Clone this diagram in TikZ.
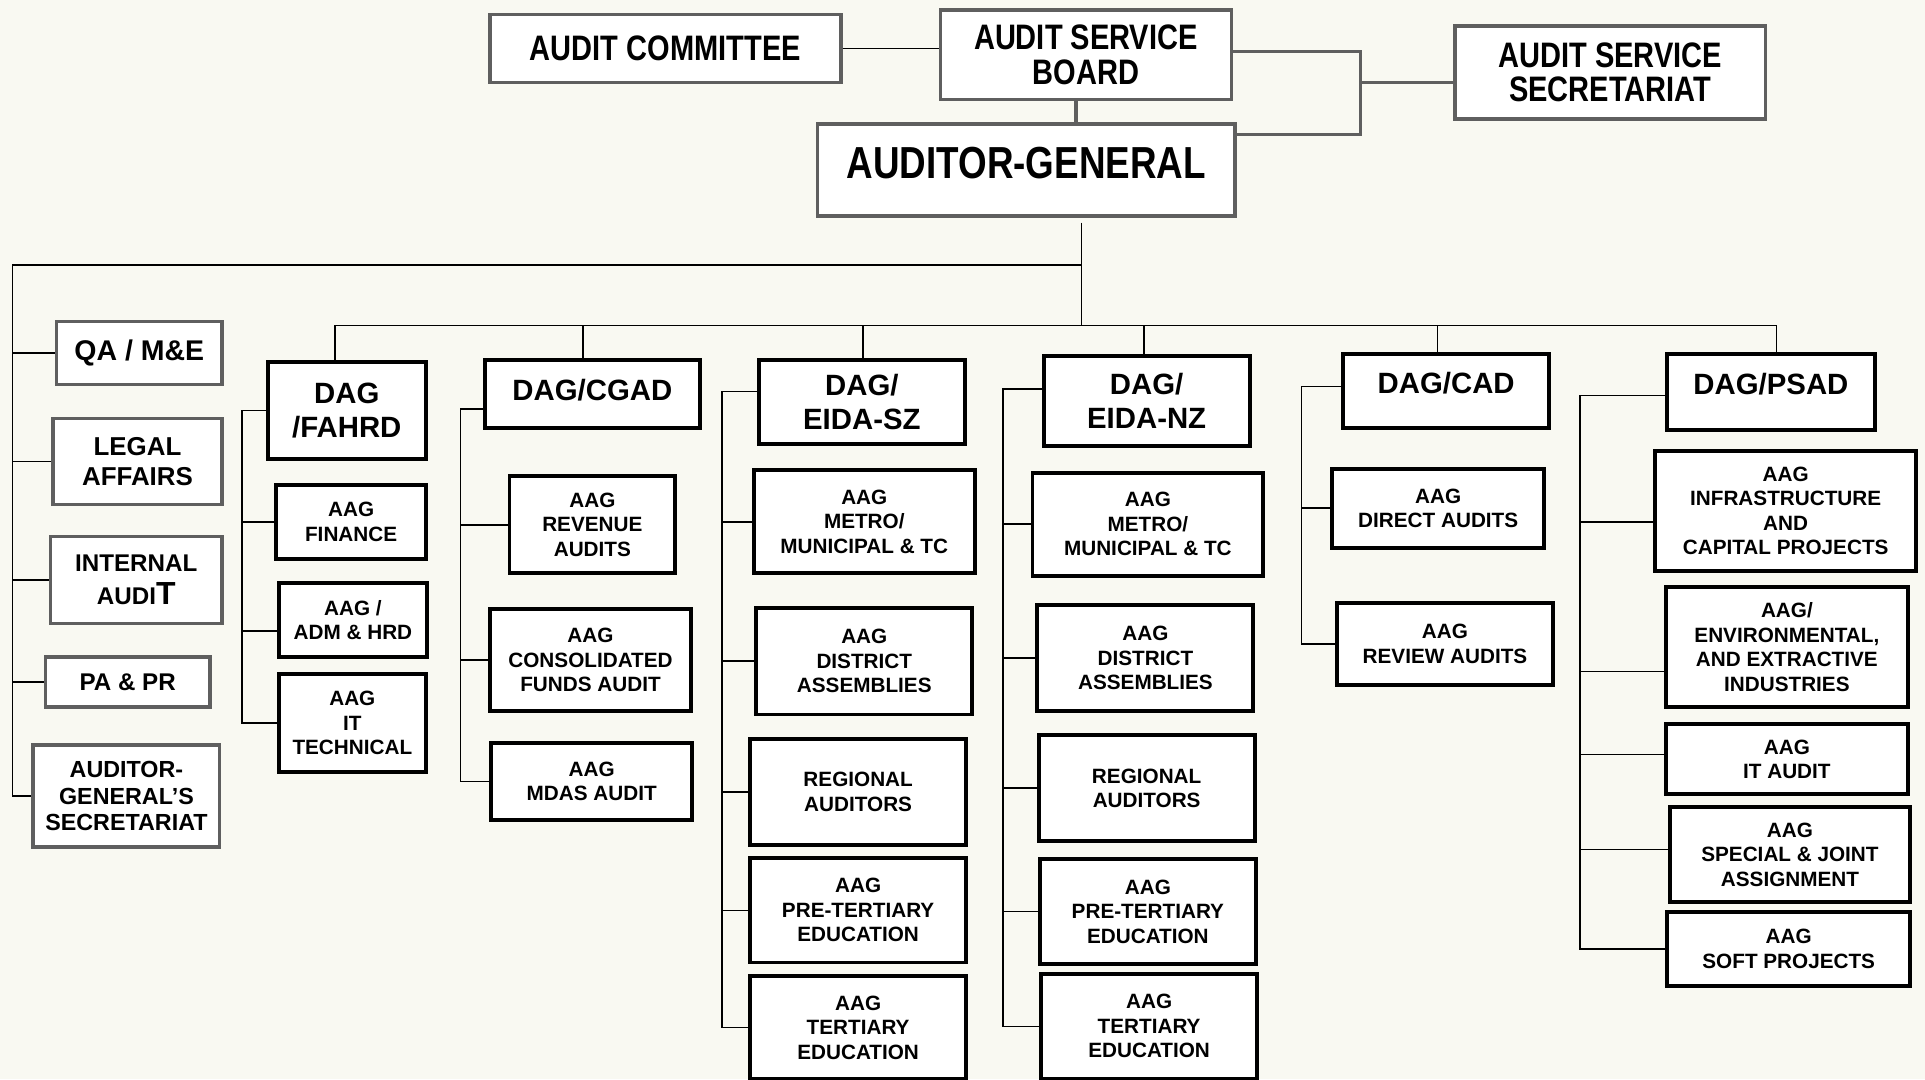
\documentclass[tikz,border=0pt]{standalone}
\usepackage{fontspec}
\setmainfont{Liberation Sans}
\newfontfamily\narrowfont[FakeStretch=0.82]{Liberation Sans}
\usetikzlibrary{positioning,calc}
\definecolor{boxgray}{RGB}{95,95,95}
\definecolor{paper}{RGB}{249,249,242}

\begin{document}
\begin{tikzpicture}[x=0.025cm, y=-0.025cm,
    wh/.style 2 args={minimum width=#1*0.025cm, minimum height=#2*0.025cm, inner sep=0pt}]
		\tikzstyle{topbox}=[draw=boxgray, line width=2pt, fill=white, align=center, font=\narrowfont\bfseries\fontsize{20.5}{20}\selectfont]
		\tikzstyle{staff}=[draw=boxgray, line width=2pt, fill=white, align=center, font=\bfseries\fontsize{15}{17.7}\selectfont]
		\tikzstyle{dag}=[draw=black, line width=2.3pt, fill=white, align=center, font=\bfseries\fontsize{17}{19.5}\selectfont]
		\tikzstyle{aag}=[draw=black, line width=2.3pt, fill=white, align=center, font=\bfseries\fontsize{12}{14.2}\selectfont]
		\tikzstyle{conn}=[draw=black, line width=0.9pt]
		\tikzstyle{gconn}=[draw=boxgray, line width=2pt]
		\fill[paper] (0,0) rectangle (1568,879);
		\useasboundingbox (0,0) rectangle (1568,879);

		% board and auditor-general
		\node[topbox, wh={286}{55}]    (ac)  at (542,39.5)    {AUDIT COMMITTEE};
		\node[topbox, wh={237}{73}]    (asb) at (884.5,44.5)  {AUDIT SERVICE\\BOARD};
		\node[topbox, wh={253}{76}]    (ass) at (1311.5,59)   {AUDIT SERVICE\\SECRETARIAT};
		\node[topbox, wh={340}{75}, font=\narrowfont\bfseries\fontsize{26}{28}\selectfont, text depth=8pt]
		                               (ag)  at (836,138.5)   {AUDITOR-GENERAL};

		% staff units
		\node[staff, wh={135}{51}, font=\bfseries\fontsize{16.5}{18}\selectfont] (qa) at (113.5,287.5) {QA / M\&E};
		\node[staff, wh={138}{70}]    (legal)    at (112,376)   {LEGAL\\AFFAIRS};
		\node[staff, wh={140}{71}, font=\bfseries\fontsize{14}{19}\selectfont]
		                              (internal) at (111,472.5) {INTERNAL\\AUDI{\fontsize{18.5}{19}\selectfont T}};
		\node[staff, wh={134}{41}, font=\bfseries\fontsize{14}{17}\selectfont] (papr) at (104,555.5) {PA \& PR};
		\node[staff, wh={152}{83}, font=\bfseries\fontsize{13.5}{15.2}\selectfont]
		                              (ags)      at (103,648.5) {AUDITOR-\\GENERAL’S\\SECRETARIAT};

		% DAG/FAHRD
		\node[dag, wh={129}{79}] (fahrd) at (282.5,334.5) {DAG\\/FAHRD};
		\node[aag, wh={122}{60}] (fin)   at (286,425)     {AAG\\FINANCE};
		\node[aag, wh={121}{60}] (adm)   at (287.5,505)   {AAG /\\ADM \& HRD};
		\node[aag, wh={120}{80}] (itt)   at (287,589)     {AAG\\IT\\TECHNICAL};

		% DAG/CGAD
		\node[dag, wh={175}{56}, text depth=4.5pt] (cgad) at (482.5,321) {DAG/CGAD};
		\node[aag, wh={135}{79}] (rev)   at (482.5,427.5) {AAG\\REVENUE\\AUDITS};
		\node[aag, wh={164}{83}] (cons)  at (481,537.5)   {AAG\\CONSOLIDATED\\FUNDS AUDIT};
		\node[aag, wh={164}{63}] (mdas)  at (482,636.5)   {AAG\\MDAS AUDIT};

		% DAG/EIDA-SZ
		\node[dag, wh={168}{69}] (eidasz) at (702,327.5) {DAG/\\EIDA-SZ};
		\node[aag, wh={180}{84}] (szmet)  at (704,425)   {AAG\\METRO/\\MUNICIPAL \& TC};
		\node[aag, wh={176}{87}] (szdis)  at (704,538.5) {AAG\\DISTRICT\\ASSEMBLIES};
		\node[aag, wh={176}{86}] (szreg)  at (699,645)   {REGIONAL\\AUDITORS};
		\node[aag, wh={176}{85}] (szpre)  at (699,741.5) {AAG\\PRE-TERTIARY\\EDUCATION};
		\node[aag, wh={176}{84}] (szter)  at (699,837)   {AAG\\TERTIARY\\EDUCATION};

		% DAG/EIDA-NZ
		\node[dag, wh={168}{73}] (eidanz) at (934,326.5) {DAG/\\EIDA-NZ};
		\node[aag, wh={188}{84}] (nzmet)  at (935,427)   {AAG\\METRO/\\MUNICIPAL \& TC};
		\node[aag, wh={176}{86}] (nzdis)  at (933,536)   {AAG\\DISTRICT\\ASSEMBLIES};
		\node[aag, wh={176}{86}] (nzreg)  at (934,642)   {REGIONAL\\AUDITORS};
		\node[aag, wh={176}{85}] (nzpre)  at (935,742.5) {AAG\\PRE-TERTIARY\\EDUCATION};
		\node[aag, wh={176}{86}] (nzter)  at (936,836)   {AAG\\TERTIARY\\EDUCATION};

		% DAG/CAD
		\node[dag, wh={168}{61}, text depth=9pt] (cad) at (1178,318.5) {DAG/CAD};
		\node[aag, wh={173}{64}] (dir)   at (1171.5,414)  {AAG\\DIRECT AUDITS};
		\node[aag, wh={176}{67}] (revw)  at (1177,524.5)  {AAG\\REVIEW AUDITS};

		% DAG/PSAD
		\node[dag, wh={169}{62}, text depth=8.5pt] (psad) at (1442.5,319) {DAG/PSAD};
		\node[aag, wh={213}{98}] (infra) at (1454.5,416)  {AAG\\INFRASTRUCTURE\\AND\\CAPITAL PROJECTS};
		\node[aag, wh={197}{98}] (env)   at (1455.5,527)  {AAG/\\ENVIRONMENTAL,\\AND EXTRACTIVE\\INDUSTRIES};
		\node[aag, wh={197}{57}] (ita)   at (1455.5,618.5) {AAG\\IT AUDIT};
		\node[aag, wh={196}{78}] (spec)  at (1458,696)    {AAG\\SPECIAL \& JOINT\\ASSIGNMENT};
		\node[aag, wh={198}{60}] (soft)  at (1457,773)    {AAG\\SOFT PROJECTS};

		% top links
		\coordinate (jn)  at (1108,67);
		\coordinate (agr) at ($(ag.north east)+(0,10)$);
		\path[conn] (ac.east) -- (ac.east -| asb.west);
		\path[gconn] ($(asb.south)+(-8,0)$) -- ($(asb.south |- ag.north)+(-8,0)$);
		\path[gconn] ($(asb.east)+(0,-2.5)$) -| (jn |- agr) -- (agr);
		\path[gconn] ($(ass.west)+(0,8)$) -- (jn);

		% trunk, staff line and DAG bar
		\coordinate (hub)   at (881,265);
		\coordinate (staff) at (10,216);
		\path[conn] ($(ag.south -| hub)+(0,4)$) -- (hub);
		\path[conn] (hub |- staff) -- (staff) |- (ags.west);
		\foreach \n in {qa,legal,internal,papr}
		    \path[conn] (staff |- \n.west) -- (\n.west);
		\path[conn] ($(fahrd.north)+(-9.5,0)$) |- ($(psad.north |- hub)+(4.5,0)$) -- ($(psad.north)+(4.5,0)$);
		\foreach \n/\dx in {cgad/-7.5,eidasz/1,eidanz/-2,cad/-7}
		    \path[conn] ($(\n.north |- hub)+(\dx,0)$) -- ($(\n.north)+(\dx,0)$);

		% branch spines
		\coordinate (fs) at (197,0);
		\coordinate (cs) at (375,0);
		\coordinate (ss) at (588,0);
		\coordinate (ns) at (817,0);
		\coordinate (ds) at (1060,0);
		\coordinate (ps) at (1287,0);
		\path[conn] (fahrd.west) -| (fs |- itt.west) -- (itt.west);
		\foreach \n/\dy in {fin/0,adm/9}
		    \path[conn] ($(fs |- \n.west)+(0,\dy)$) -- ($(\n.west)+(0,\dy)$);
		\path[conn] ($(cgad.west)+(0,12)$) -| (cs |- mdas.west) -- (mdas.west);
		\foreach \n in {rev,cons}
		    \path[conn] (cs |- \n.west) -- (\n.west);
		\path[conn] ($(eidasz.west)+(0,-8.5)$) -| (ss |- szter.west) -- (szter.west);
		\foreach \n in {szmet,szdis,szreg,szpre}
		    \path[conn] (ss |- \n.west) -- (\n.west);
		\path[conn] ($(eidanz.west)+(0,-9.5)$) -| (ns |- nzter.west) -- (nzter.west);
		\foreach \n in {nzmet,nzdis,nzreg,nzpre}
		    \path[conn] (ns |- \n.west) -- (\n.west);
		\path[conn] ($(cad.west)+(0,-3.5)$) -| (ds |- revw.west) -- (revw.west);
		\path[conn] (ds |- dir.west) -- (dir.west);
		\path[conn] ($(psad.west)+(0,3)$) -| (ps |- soft.west) -- (soft.west);
		\foreach \n/\dy in {infra/9,env/20,ita/-4,spec/-4}
		    \path[conn] ($(ps |- \n.west)+(0,\dy)$) -- ($(\n.west)+(0,\dy)$);
\end{tikzpicture}
\end{document}
